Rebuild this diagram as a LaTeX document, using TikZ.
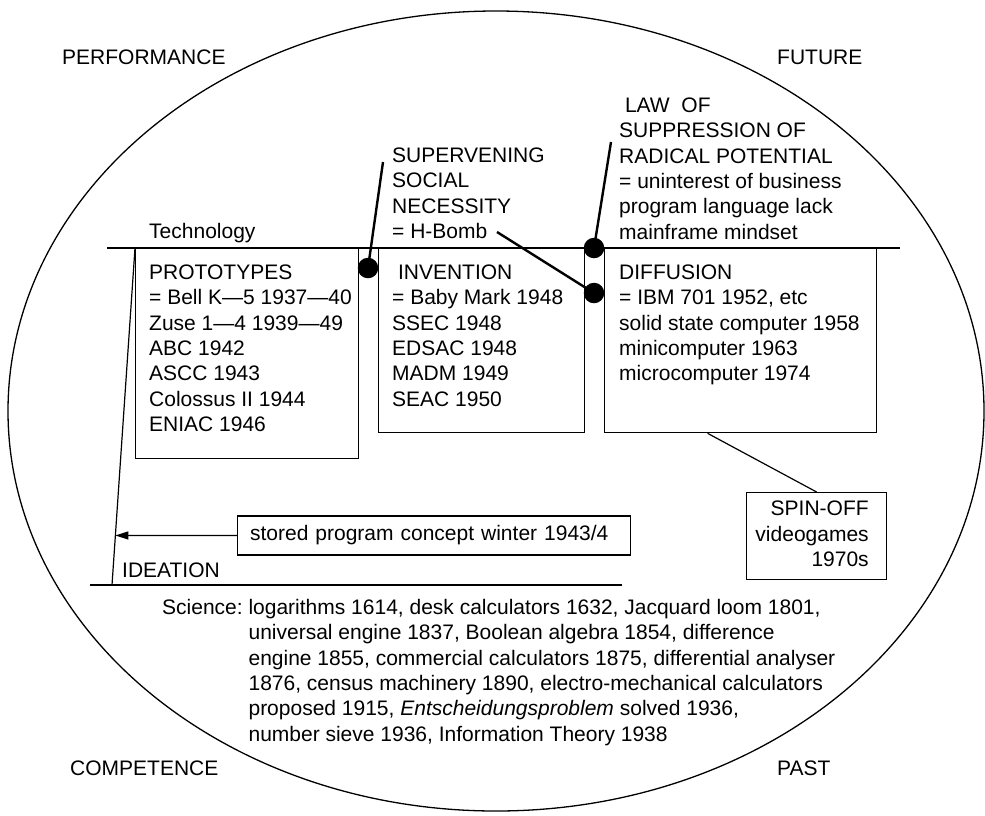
\documentclass[tikz,border=0pt]{standalone}
\usepackage{fontspec}
\setmainfont{Liberation Sans}
\usetikzlibrary{arrows.meta,calc}
% a left-aligned block of lines whose reference point is the first baseline
\newcommand{\linesblock}[1]{\begin{tabular}[t]{@{}l@{}}#1\end{tabular}}

\begin{document}
\begin{tikzpicture}[x=1pt,y=-1pt,
  every node/.style={font=\fontsize{21}{25.3}\selectfont, inner sep=0pt},
  txt/.style={anchor=base west},
  frame/.style={draw, line width=1.3pt, anchor=north west},
  dotmark/.style={circle, fill=black, minimum size=20.5pt},
  link/.style={line width=2.4pt},
  thinline/.style={line width=1.2pt}]
\useasboundingbox (0,0) rectangle (985,815);

% outer ellipse
\draw[line width=1.3pt] (496,411) ellipse [x radius=488, y radius=400];

% corner labels
\node[txt] (perf) at (62,64.5) {PERFORMANCE};
\node[txt] (fut)  at (777,64.5) {FUTURE};
\node[txt] (comp) at (70,775.5) {COMPETENCE};
\node[txt] (past) at (777,775.5) {PAST};

% technology level
\coordinate (techL) at (107,248);
\coordinate (techR) at (900,248);
\node[txt] (tech) at (149,238) {Technology};

% stage boxes
\node[frame, minimum width=223pt, minimum height=210pt] (proto)  at (135,248) {};
\node[frame, minimum width=206pt, minimum height=184pt] (invent) at (378,248) {};
\node[frame, minimum width=272pt, minimum height=184pt] (diff)   at (604,248) {};
\draw[thinline] (techL) -- (techR);

\node[txt] (protoT) at (149,279.5) {\linesblock{PROTOTYPES\\= Bell K—5 1937—40\\Zuse 1—4 1939—49\\ABC 1942\\ASCC 1943\\Colossus II 1944\\ENIAC 1946}};
\node[txt] (inventT) at (392,279.5) {\linesblock{\ INVENTION\\= Baby Mark 1948\\SSEC 1948\\EDSAC 1948\\MADM 1949\\SEAC 1950}};
\node[txt] (diffT) at (619,279.5) {\linesblock{DIFFUSION\\= IBM 701 1952, etc\\solid state computer 1958\\minicomputer 1963\\microcomputer 1974}};

% accelerators and brakes
\node[txt] (svn) at (392,162.5) {\linesblock{SUPERVENING\\SOCIAL\\NECESSITY\\= H-Bomb}};
\node[txt] (law) at (619,112.5) {\linesblock{\ LAW\ \ OF\\SUPPRESSION OF\\RADICAL POTENTIAL\\= uninterest of business\\program language lack\\mainframe mindset}};

\node[dotmark] (d1) at (368,268) {};
\node[dotmark] (d2) at (594,248) {};
\node[dotmark] (d3) at (594,293) {};
\coordinate (s1) at (383,162);
\coordinate (s2) at (611,142);
\coordinate (s3) at (497,232);
\draw[link] (d1.center) -- (s1);
\draw[link] (d2.center) -- (s2);
\draw[link] (s3) -- (d3.center);

% ideation level
\coordinate (slT) at (135,248);
\coordinate (slB) at (112,585);
\coordinate (ideaL) at (90,585);
\coordinate (ideaR) at (622,585);
\draw[thinline] (slT) -- (slB);
\draw[thinline] (ideaL) -- (ideaR);
\node[txt] (idea) at (122,577.5) {IDEATION};

\node[draw, thinline, anchor=west, minimum height=39pt, text width=368pt,
      inner xsep=12.5pt, align=left] (stored) at (237,535.5)
      {stored program concept winter 1943/4};
\draw[thinline, -{Triangle[length=13pt,width=8pt]}] (stored.west) -- ($(slT)!0.853!(slB)$);

% spin-off
\node[draw, thinline, minimum width=140pt, minimum height=87pt, anchor=north west] (spin) at (746,492)
  {\begin{tabular}{@{}r@{\hspace{9pt}}}SPIN-OFF\\videogames\\1970s\end{tabular}};
\draw[thinline] ($(diff.south west)!0.379!(diff.south east)$) -- (spin.north);

% science level
\node[txt] (sci) at (162,614.5) {\begin{tabular}[t]{@{}l@{\ }l@{}}
Science: & logarithms 1614, desk calculators 1632, Jacquard loom 1801,\\
 & universal engine 1837, Boolean algebra 1854, difference\\
 & engine 1855, commercial calculators 1875, differential analyser\\
 & 1876, census machinery 1890, electro-mechanical calculators\\
 & proposed 1915, \textit{Entscheidungsproblem} solved 1936,\\
 & number sieve 1936, Information Theory 1938
\end{tabular}};
\end{tikzpicture}
\end{document}
